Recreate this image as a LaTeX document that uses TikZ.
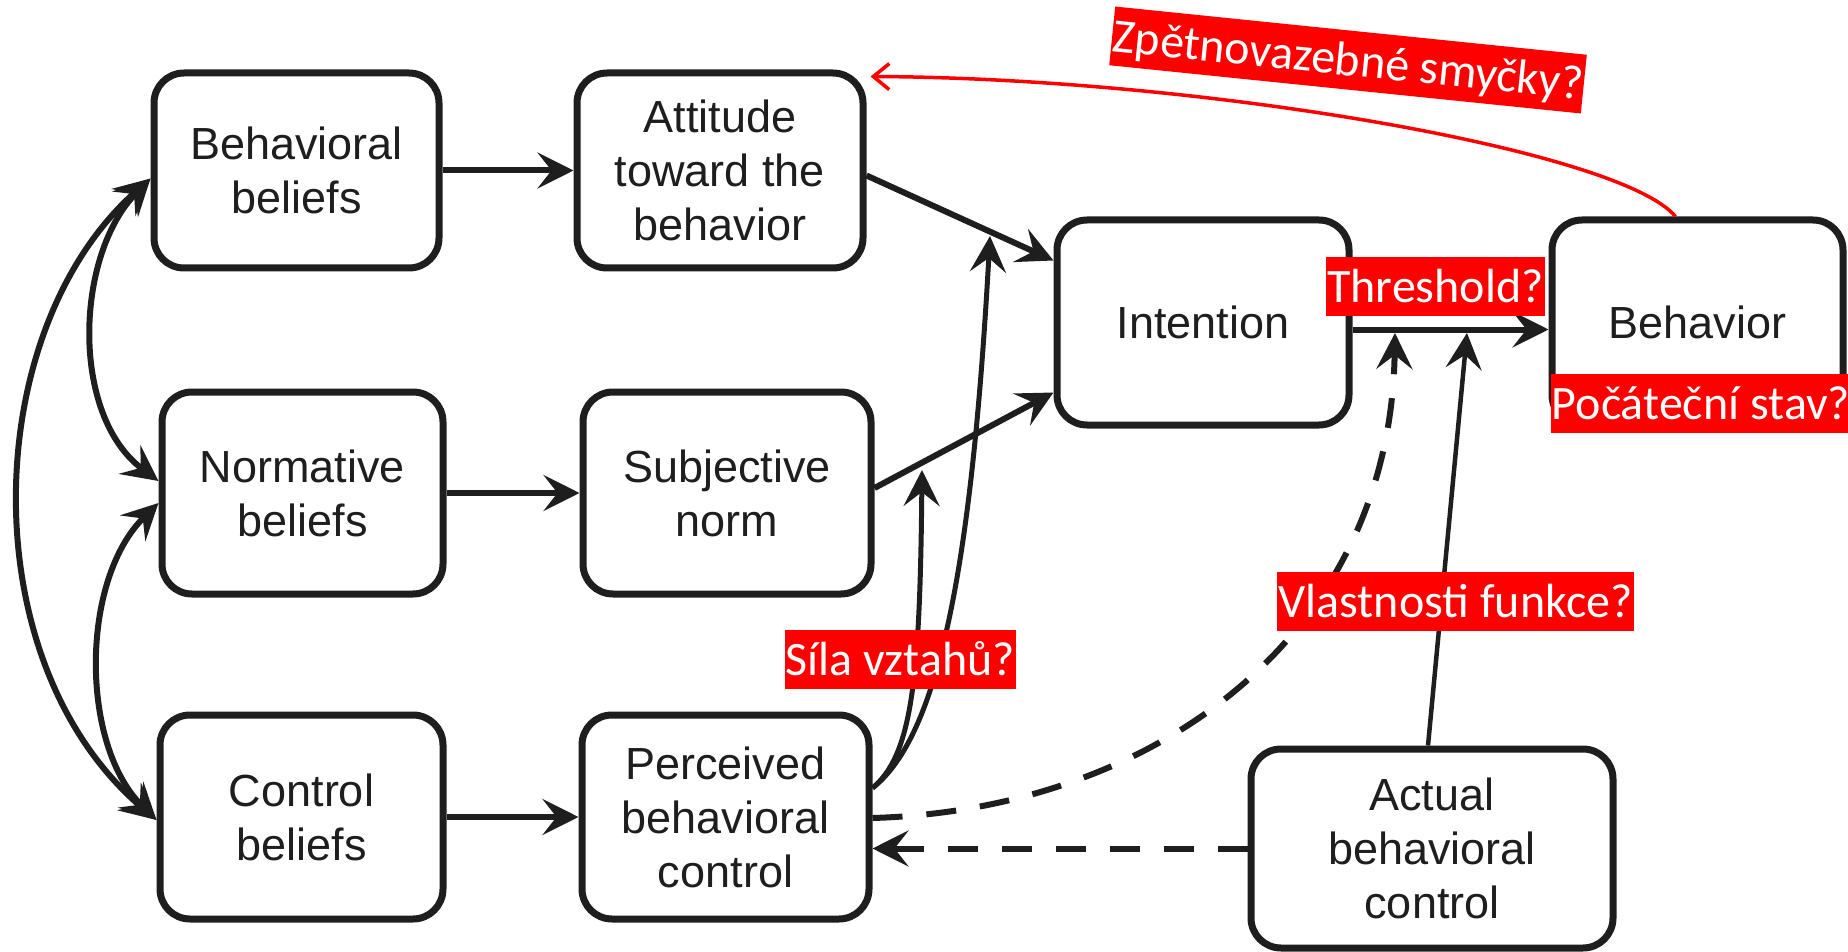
\documentclass[tikz,border=0pt]{standalone}
\usepackage{fontspec}
\setmainfont{Liberation Sans}
\newfontfamily\notefont{Carlito}
\usetikzlibrary{arrows.meta,calc}
\definecolor{ink}{HTML}{1E1E1E}
\definecolor{notered}{HTML}{FF0000}
\begin{document}
\begin{tikzpicture}[x=1pt,y=-1pt,
  box/.style={draw=ink, line width=7pt, rounded corners=30pt, fill=white,
    align=center, text=ink, font=\fontsize{45}{54}\selectfont, inner sep=0pt},
  link/.style={draw=ink, line width=6pt,
    -{Stealth[length=36pt,width=36pt,inset=14pt]}},
  both/.style={draw=ink, line width=6pt,
    {Stealth[length=36pt,width=36pt,inset=14pt]}-{Stealth[length=36pt,width=36pt,inset=14pt]}},
  dashlink/.style={link, dash pattern=on 30pt off 24pt},
  note/.style={fill=notered, text=white, font=\notefont\fontsize{48}{58}\selectfont,
    inner xsep=1pt, inner ysep=0pt, minimum height=59pt, text height=31pt, text depth=0pt},
  feedback/.style={draw=notered, line width=3.5pt,
    -{Straight Barb[length=16pt,width=26pt]}}
]
\useasboundingbox (0,0) rectangle (1848,952);

% belief, attitude and control boxes
\node[box, minimum width=285pt, minimum height=195pt] (bb)  at (296.5,170.5) {Behavioral\\beliefs};
\node[box, minimum width=286pt, minimum height=195pt] (att) at (720,170.5)   {Attitude\\toward the\\behavior};
\node[box, minimum width=281pt, minimum height=202pt] (nb)  at (302.5,493)   {Normative\\beliefs};
\node[box, minimum width=288pt, minimum height=202pt] (sn)  at (727,493)     {Subjective\\norm};
\node[box, minimum width=283pt, minimum height=204pt] (cb)  at (301.5,817)   {Control\\beliefs};
\node[box, minimum width=287pt, minimum height=204pt] (pbc) at (725.5,817)   {Perceived\\behavioral\\control};
\node[box, minimum width=292pt, minimum height=205pt] (int) at (1203,322.5)  {Intention};
\node[box, minimum width=291pt, minimum height=205pt] (beh) at (1697.5,322.5) {Behavior};
\node[box, minimum width=362pt, minimum height=199pt] (abc) at (1432,848.5)  {Actual\\behavioral\\control};

% free ends of the moderating arrows
\coordinate (nA) at (922,470);
\coordinate (nB) at (990,236);
\coordinate (tD) at (1395,333);
\coordinate (tS) at (1467,333);

% main paths
\draw[link] (bb.east) -- (att.west);
\draw[link] (nb.east) -- (sn.west);
\draw[link] (cb.east) -- (pbc.west);
\draw[link] ([yshift=-5pt]att.east) -- ([yshift=62pt]int.west);
\draw[link] ([yshift=5pt]sn.east) -- ([yshift=-70pt]int.west);
\draw[link] ([yshift=-7pt]int.east) -- ([yshift=-7pt]beh.west);

% perceived control moderating the paths to intention
\draw[link, line width=5pt] ([yshift=29pt]pbc.east) .. controls (912,755) and (920,680) .. (nA);
\draw[link, line width=5pt] ([yshift=29pt]pbc.east) .. controls (940,735) and (972,560) .. (nB);

% control paths to behavior
\draw[dashlink] ([yshift=-1pt]pbc.east) .. controls (1150,810) and (1390,640) .. (tD);
\draw[link, line width=4.5pt] ([xshift=-4pt]abc.north) -- (tS);
\draw[dashlink] (abc.west) -- (abc.west -| pbc.east);

% correlations between beliefs
\draw[both] ([yshift=-8pt]bb.west) .. controls (75,255) and (70,415) .. ([yshift=12pt]nb.west);
\draw[both] ([yshift=-10pt]nb.west) .. controls (80,580) and (80,745) .. ([yshift=-3pt]cb.west);
\draw[both] ([yshift=-8pt]bb.west) .. controls (-20,330) and (-30,660) .. ([yshift=-3pt]cb.west);

% feedback loop
\draw[feedback] ([xshift=-22pt]beh.north) .. controls (1620,150) and (1200,78) .. ([xshift=4pt,yshift=-7pt]att.north east);

% questions
\node[note] (thr) at (1435.5,286.5) {Threshold?};
\node[note] (ini) at (1701,403.5) {Počáteční stav?};
\node[note] (fun) at (1455.5,601.5) {Vlastnosti funkce?};
\node[note] (str) at (900.5,659.5) {Síla vztahů?};
\node[note, rotate=-5.84] (fb) at (1348,60) {Zpětnovazebné smyčky?};
\end{tikzpicture}
\end{document}
